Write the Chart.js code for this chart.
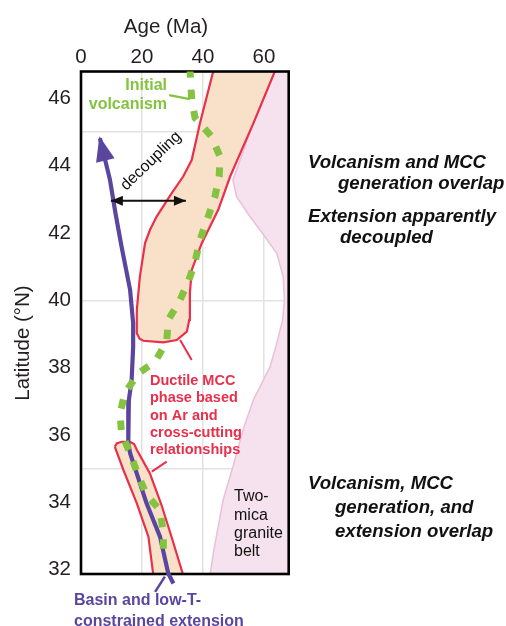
<!DOCTYPE html>
<html>
<head>
<meta charset="utf-8">
<script src="https://cdn.jsdelivr.net/npm/chart.js@4/dist/chart.umd.min.js"></script>
<style>
  html, body { margin: 0; padding: 0; background: #ffffff; }
  #wrap { width: 506px; height: 626px; position: relative; }
</style>
</head>
<body>
<div id="wrap"><canvas id="chart" width="506" height="626"></canvas></div>
<script>
// ---- Axis ticks ----
const ageTicks = [0, 20, 40, 60];
const latTicks = [32, 33, 34, 35, 36, 37, 38, 39, 40, 41, 42, 43, 44, 45, 46];

// ---- Outlines as [age (Ma), latitude (°N)] pairs ----
// Two-mica granite belt (closed polygon, right side of the panel)
const graniteBelt = [
  [65.1, 47.14], [56.5, 45.26], [49.8, 43.58], [51.0, 43.08], [55.4, 42.49],
  [58.7, 42.09], [64.2, 41.40], [66.3, 40.70], [66.7, 40.01], [66.1, 39.42],
  [64.2, 38.73], [62.0, 38.03], [56.5, 37.04], [53.1, 36.14], [49.8, 35.05],
  [46.6, 34.07], [43.6, 32.60], [42.3, 31.84], [41.8, 31.50],
  [75.0, 31.50], [75.0, 47.14], [65.1, 47.14]
];

// Ductile MCC phase, northern body
const mccNorth = [
  [44.3, 47.14], [39.0, 45.26], [36.3, 44.17], [33.5, 43.68], [29.7, 43.18],
  [24.8, 42.49], [22.6, 42.09], [21.0, 41.70], [19.3, 40.70], [18.3, 39.71],
  [18.3, 39.02], [19.2, 38.86], [20.4, 38.80], [27.0, 38.75], [31.4, 38.82],
  [34.7, 39.07], [35.5, 39.42], [35.7, 40.21], [36.3, 40.90], [39.6, 41.70],
  [45.0, 42.69], [48.9, 43.68], [56.5, 45.26], [65.1, 47.14], [44.3, 47.14]
];

// Ductile MCC phase, southern body
const mccSouth = [
  [11.1, 35.65], [11.7, 35.75], [13.4, 35.80], [16.1, 35.80], [17.4, 35.73],
  [18.3, 35.56], [22.6, 34.86], [26.4, 33.92], [30.0, 32.88], [33.5, 31.84],
  [34.4, 31.54], [24.6, 31.54], [23.7, 31.84], [22.1, 32.98], [18.3, 33.97],
  [13.9, 34.96], [11.1, 35.65]
];

// Basin and low-T-constrained extension (first point is the arrow tip)
const extensionTrack = [
  [6.2, 44.82], [9.5, 43.58], [11.4, 42.54], [13.3, 41.60], [16.1, 40.31],
  [17.1, 39.32], [17.1, 38.62], [16.6, 37.63], [15.7, 37.04], [15.5, 35.75],
  [16.1, 35.46], [21.5, 33.97], [25.9, 32.98], [28.6, 31.89], [30.3, 31.59]
];

// Initial volcanism front
const volcanismFront = [
  [35.7, 46.90], [36.3, 45.96], [37.4, 45.42], [42.6, 44.89], [45.6, 44.27],
  [45.3, 43.68], [43.9, 43.08], [41.7, 42.49], [39.0, 41.79], [37.4, 41.15],
  [35.2, 40.56], [32.2, 39.96], [28.6, 39.42], [28.1, 38.77], [24.3, 38.18],
  [18.8, 37.83], [14.4, 37.25], [12.8, 36.64], [13.3, 36.05], [16.1, 35.46],
  [18.5, 34.86], [21.5, 34.22], [25.9, 33.77], [27.0, 33.08], [27.0, 32.37]
];

// Decoupling span between extension and MCC at ~43°N
const decouplingSpan = [[9.8, 42.96], [34.4, 42.96]];

// Leader lines for the labels
const mccLeaderNorth = [[32.5, 38.82], [36.3, 38.23]];
const mccLeaderSouth = [[23.2, 34.91], [28.1, 35.21]];
const volcanismLeader = [[28.9, 46.10], [35.7, 45.98]];
const extensionLeader = [[24.3, 31.34], [27.5, 31.79]];

// ---- Styling ----
const FONT = '"Liberation Sans", Arial, Helvetica, sans-serif';
const RED = '#e8304b';
const PEACH = '#f9e1c9';
const PINK_FILL = '#f6e2ee';
const PINK_LINE = '#e9c0d8';
const GREEN = '#84c341';
const PURPLE = '#5a469e';
const GRID = '#e2e2e2';
const INK = '#231f20';
const NONE = 'rgba(0,0,0,0)';

const xy = pts => pts.map(([x, y]) => ({ x, y }));

const baseLine = { showLine: true, pointRadius: 0, pointHoverRadius: 0, tension: 0, fill: false };

const datasets = [
  Object.assign({}, baseLine, { label: 'Two-mica granite belt', data: xy(graniteBelt), fill: 'shape',
    backgroundColor: PINK_FILL, borderColor: PINK_LINE, borderWidth: 1.5, order: 10, clip: 0 }),
  Object.assign({}, baseLine, { label: 'Ductile MCC (north)', data: xy(mccNorth), fill: 'shape',
    backgroundColor: PEACH, borderColor: RED, borderWidth: 2.2, order: 9, clip: 0 }),
  Object.assign({}, baseLine, { label: 'Ductile MCC (south)', data: xy(mccSouth), fill: 'shape',
    backgroundColor: PEACH, borderColor: RED, borderWidth: 2.2, order: 8, clip: 0 }),
  Object.assign({}, baseLine, { label: 'MCC leader N', data: xy(mccLeaderNorth),
    borderColor: RED, borderWidth: 2, order: 7 }),
  Object.assign({}, baseLine, { label: 'MCC leader S', data: xy(mccLeaderSouth),
    borderColor: RED, borderWidth: 2, order: 7 }),
  Object.assign({}, baseLine, { label: 'Basin and low-T-constrained extension', data: xy(extensionTrack),
    borderColor: PURPLE, borderWidth: 4.2, order: 5, clip: { left: 0, top: 0, right: 0, bottom: 14 } }),
  Object.assign({}, baseLine, { label: 'Extension leader', data: xy(extensionLeader),
    borderColor: PURPLE, borderWidth: 2.5, order: 5, clip: false }),
  Object.assign({}, baseLine, { label: 'Initial volcanism', data: xy(volcanismFront),
    borderColor: GREEN, borderWidth: 7, borderDash: [9.5, 12], borderDashOffset: 0, borderCapStyle: 'butt',
    order: 4, clip: 0 }),
  Object.assign({}, baseLine, { label: 'Volcanism leader', data: xy(volcanismLeader),
    borderColor: GREEN, borderWidth: 2.2, order: 4 }),
  Object.assign({}, baseLine, { label: 'Decoupling', data: xy(decouplingSpan),
    borderColor: '#111111', borderWidth: 2, order: 3 })
];
const FRAME_AFTER = 2; // draw the panel frame once the filled bodies are down
const TRACK_INDEX = 5;
const SPAN_INDEX = 9;

function arrowHead(ctx, tip, from, len, half, color, extend) {
  const dx = tip.x - from.x, dy = tip.y - from.y;
  const d = Math.hypot(dx, dy) || 1;
  const ux = dx / d, uy = dy / d;
  const tx = tip.x + ux * extend, ty = tip.y + uy * extend;
  const bx = tx - ux * len, by = ty - uy * len;
  ctx.beginPath();
  ctx.moveTo(tx, ty);
  ctx.lineTo(bx - uy * half, by + ux * half);
  ctx.lineTo(bx + uy * half, by - ux * half);
  ctx.closePath();
  ctx.fillStyle = color;
  ctx.fill();
}

function label(ctx, lines, x, y, step, font, color, align) {
  ctx.save();
  ctx.font = font;
  ctx.fillStyle = color;
  ctx.textAlign = align || 'left';
  ctx.textBaseline = 'middle';
  lines.forEach((t, i) => ctx.fillText(t, x, y + i * step));
  ctx.restore();
}

const annotations = {
  id: 'annotations',
  afterDatasetDraw(chart, args) {
    if (args.index !== FRAME_AFTER) return;
    const { ctx, chartArea: a } = chart;
    ctx.save();
    ctx.strokeStyle = '#000000';
    ctx.lineWidth = 2.6;
    ctx.strokeRect(a.left, a.top, a.right - a.left, a.bottom - a.top);
    ctx.restore();
  },
  afterDatasetsDraw(chart) {
    const ctx = chart.ctx;
    const track = chart.getDatasetMeta(TRACK_INDEX).data;
    arrowHead(ctx, track[0], track[1], 25, 9.5, PURPLE, 2);
    const span = chart.getDatasetMeta(SPAN_INDEX).data;
    arrowHead(ctx, span[0], span[1], 12, 5, '#111111', 0);
    arrowHead(ctx, span[1], span[0], 12, 5, '#111111', 0);

    // Axis titles
    label(ctx, ['Age (Ma)'], 166, 27, 0, `20.5px ${FONT}`, INK, 'center');
    ctx.save();
    ctx.translate(23, 343);
    ctx.rotate(-Math.PI / 2);
    label(ctx, ['Latitude (°N)'], 0, 0, 0, `20.5px ${FONT}`, INK, 'center');
    ctx.restore();

    // In-panel labels
    label(ctx, ['Initial', 'volcanism'], 167, 86, 19, `bold 16px ${FONT}`, GREEN, 'right');
    ctx.save();
    ctx.translate(151, 161);
    ctx.rotate(-44 * Math.PI / 180);
    label(ctx, ['decoupling'], 0, 0, 0, `16px ${FONT}`, '#111111', 'center');
    ctx.restore();
    label(ctx, ['Ductile MCC', 'phase based', 'on Ar and', 'cross-cutting', 'relationships'],
      150, 381, 17.3, `bold 14.5px ${FONT}`, RED, 'left');
    label(ctx, ['Two-', 'mica', 'granite', 'belt'], 234, 497, 18.3, `16px ${FONT}`, '#111111', 'left');
    label(ctx, ['Basin and low-T-', 'constrained extension'], 74, 601, 20.5, `bold 16px ${FONT}`, PURPLE, 'left');

    // Interpretation notes
    const note = `italic bold 18.6px ${FONT}`;
    label(ctx, ['Volcanism and MCC'], 308, 163, 0, note, '#111111', 'left');
    label(ctx, ['generation overlap'], 338, 184, 0, note, '#111111', 'left');
    label(ctx, ['Extension apparently'], 308, 217, 0, note, '#111111', 'left');
    label(ctx, ['decoupled'], 340, 238, 0, note, '#111111', 'left');
    label(ctx, ['Volcanism, MCC'], 308, 484, 0, note, '#111111', 'left');
    label(ctx, ['generation, and', 'extension overlap'], 335, 508, 24, note, '#111111', 'left');
  }
};

new Chart(document.getElementById('chart'), {
  type: 'scatter',
  data: { datasets },
  options: {
    responsive: false,
    animation: false,
    devicePixelRatio: 1,
    layout: { padding: { left: 0, top: 0, right: 217.3, bottom: 52 } },
    plugins: { legend: { display: false }, tooltip: { enabled: false } },
    scales: {
      x: {
        type: 'linear', position: 'top', min: 0, max: 68.1,
        afterBuildTicks: s => { s.ticks = ageTicks.map(v => ({ value: v })); },
        afterFit: s => { s.height = 71.5; },
        border: { display: false },
        grid: { drawTicks: false, lineWidth: 1.5, color: c => (c.tick && c.tick.value > 0 ? GRID : NONE) },
        ticks: { autoSkip: false, maxRotation: 0, padding: 2, color: INK, font: { family: FONT, size: 20.5 },
          callback: v => String(v) }
      },
      y: {
        type: 'linear', min: 31.87, max: 46.8,
        afterBuildTicks: s => { s.ticks = latTicks.map(v => ({ value: v })); },
        afterFit: s => { s.width = 81; },
        border: { display: false },
        grid: { drawTicks: false, lineWidth: 1.5, color: c => (c.tick && c.tick.value % 5 === 0 ? GRID : NONE) },
        ticks: { autoSkip: false, padding: 10, color: INK, font: { family: FONT, size: 20.5 },
          callback: v => (v % 2 === 0 ? String(v) : '') }
      }
    }
  },
  plugins: [annotations]
});
</script>
</body>
</html>
